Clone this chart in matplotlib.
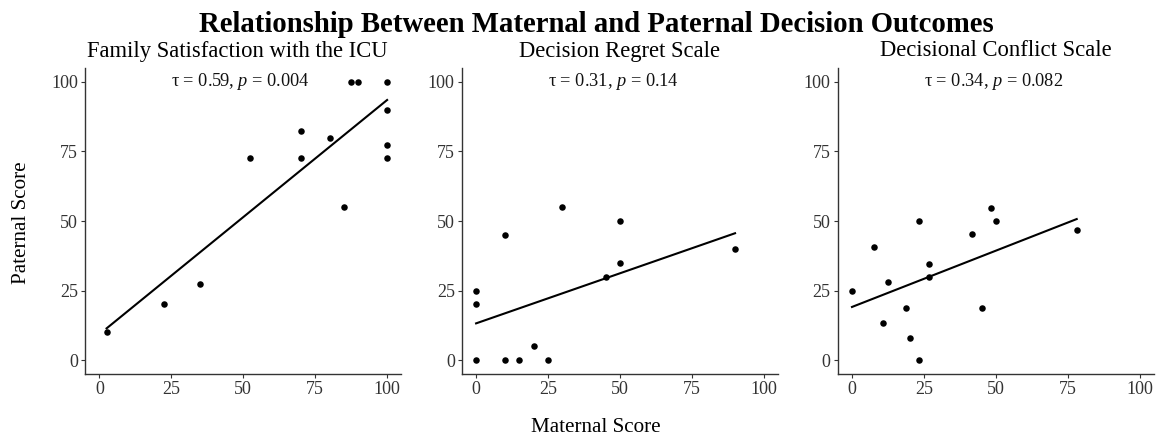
import matplotlib
matplotlib.use("Agg")
import matplotlib.pyplot as plt

plt.rcParams['font.family'] = ['Liberation Serif', 'DejaVu Serif']
plt.rcParams['mathtext.fontset'] = 'custom'
plt.rcParams['mathtext.rm'] = 'Liberation Serif'
plt.rcParams['mathtext.it'] = 'Liberation Serif:italic'

main_title = "Relationship Between Maternal and Paternal Decision Outcomes"
panel_titles = ["Family Satisfaction with the ICU", "Decision Regret Scale", "Decisional Conflict Scale"]
x_label = "Maternal Score"
y_label = "Paternal Score"
tick_values = [0, 25, 50, 75, 100]

# Panel 1: Family Satisfaction with the ICU
fs_maternal = [2.5, 22.5, 35, 52.5, 70, 70, 80, 85, 87.5, 90, 100, 100, 100, 100]
fs_paternal = [10, 20, 27.5, 72.5, 82.5, 72.5, 80, 55, 100, 100, 100, 90, 77.5, 72.5]
fs_fit_x = [2.5, 100]
fs_fit_y = [11.4, 93.5]
fs_stats = ("0.59", "0.004")

# Panel 2: Decision Regret Scale
dr_maternal = [0, 0, 0, 10, 10, 15, 20, 25, 30, 45, 50, 50, 90]
dr_paternal = [25, 20, 0, 45, 0, 0, 5, 0, 55, 30, 50, 35, 40]
dr_fit_x = [0, 90]
dr_fit_y = [13.2, 45.6]
dr_stats = ("0.31", "0.14")

# Panel 3: Decisional Conflict Scale
dc_maternal = [0, 7.8, 10.9, 12.5, 18.75, 20.3, 23.4, 23.4, 26.6, 26.6, 41.7, 45.3, 48.4, 50, 78.1]
dc_paternal = [25, 40.6, 13.3, 28.1, 18.75, 7.8, 50, 0, 34.4, 29.7, 45.3, 18.75, 54.7, 50, 46.9]
dc_fit_x = [0, 78.1]
dc_fit_y = [19.1, 50.7]
dc_stats = ("0.34", "0.082")

panels = [
    (fs_maternal, fs_paternal, fs_fit_x, fs_fit_y, fs_stats),
    (dr_maternal, dr_paternal, dr_fit_x, dr_fit_y, dr_stats),
    (dc_maternal, dc_paternal, dc_fit_x, dc_fit_y, dc_stats),
]

W, H = 1167, 443
fig = plt.figure(figsize=(W / 100, H / 100), dpi=100)

lefts = [85, 461.7, 837.6]
title_centers = [237, 619.5, 996]
ax_w = 316.5
ax_top, ax_bot = 68, 374

for i, (mx, py, fx, fy, st) in enumerate(panels):
    ax = fig.add_axes([lefts[i] / W, 1 - ax_bot / H, ax_w / W, (ax_bot - ax_top) / H])
    ax.scatter(mx, py, s=22, color='black', linewidths=0, zorder=3)
    ax.plot(fx, fy, color='black', lw=1.5, zorder=2)
    ax.set_xlim(-5, 105)
    ax.set_ylim(-5, 105)
    ax.set_xticks(tick_values)
    ax.set_yticks(tick_values)
    ax.set_xticklabels([str(t) for t in tick_values])
    ax.set_yticklabels([str(t) for t in tick_values])
    for s in ['top', 'right']:
        ax.spines[s].set_visible(False)
    for s in ['left', 'bottom']:
        ax.spines[s].set_color('#333333')
        ax.spines[s].set_linewidth(1.0)
    ax.tick_params(axis='both', length=3, width=0.8, color='#333333',
                   labelsize=13, labelcolor='#333333', pad=2)
    ax.text(25, 100, r"τ = %s, $\it{p}$ = %s" % st, ha='left', va='center',
            fontsize=13.2, color='#111111')
    fig.text(title_centers[i] / W, 1 - 51 / H, panel_titles[i], ha='center', va='center', fontsize=16.3)

fig.text(596 / W, 1 - 24 / H, main_title, ha='center', va='center',
         fontsize=20.7, fontweight='bold')
fig.text(596 / W, 1 - 428 / H, x_label, ha='center', va='center', fontsize=15.2)
fig.text(22 / W, 1 - 223 / H, y_label, ha='center', va='center', rotation=90, fontsize=15.2)

fig.savefig("out.png", dpi=100)
